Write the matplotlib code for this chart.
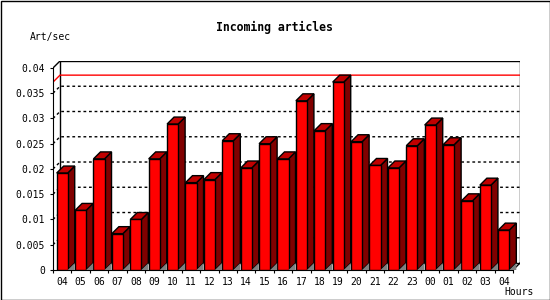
import matplotlib
matplotlib.use('Agg')
import matplotlib.pyplot as plt
from matplotlib.patches import Rectangle, Polygon

hours = ['04', '05', '06', '07', '08', '09', '10', '11', '12', '13',
         '14', '15', '16', '17', '18', '19', '20', '21', '22', '23',
         '00', '01', '02', '03', '04']
art_sec = [0.0192, 0.0118, 0.0220, 0.0072, 0.0100, 0.0220, 0.0289, 0.0173,
           0.0179, 0.0256, 0.0202, 0.0250, 0.0220, 0.0335, 0.0276, 0.0372,
           0.0254, 0.0207, 0.0202, 0.0246, 0.0287, 0.0248, 0.0137, 0.0168,
           0.0079]
yticks = [0, 0.005, 0.01, 0.015, 0.02, 0.025, 0.03, 0.035, 0.04]
ylabels = ['0', '0.005', '0.01', '0.015', '0.02', '0.025', '0.03', '0.035', '0.04']

W, H = 550, 300
n = len(art_sec)
ymax = 0.04
px_x = 460 / n          # pixels per slot
px_y = 203 / ymax       # pixels per unit
dx = 7 / px_x           # depth in data units
dy = 7 / px_y
bw = 0.6

plt.rcParams['font.family'] = 'DejaVu Sans Mono'

fig = plt.figure(figsize=(W / 100, H / 100), dpi=100)
ax = fig.add_axes([53 / W, 30 / H, 467 / W, 209 / H])
ax.set_xlim(0, n + dx)
ax.set_ylim(0, ymax + dy)
ax.patch.set_alpha(0)

for s in ['top', 'right']:
    ax.spines[s].set_visible(False)
ax.spines['left'].set_bounds(0, ymax)
ax.spines['bottom'].set_bounds(0, n)

ax.set_yticks(yticks)
ax.set_yticklabels(ylabels)
ax.set_xticks(range(n + 1))
ax.set_xticklabels([])
ax.set_xticks([i + 0.5 for i in range(n)], minor=True)
ax.set_xticklabels(hours, minor=True)
ax.tick_params(axis='y', direction='out', length=2.2, pad=3.5, labelsize=7)
ax.tick_params(axis='x', which='major', direction='out', length=2.2)
ax.tick_params(axis='x', which='minor', length=0, pad=5, labelsize=7)

# back wall, side wall, floor
ax.add_patch(Rectangle((dx, dy), n, ymax, fill=False, ec='black', lw=1, zorder=1))
ax.plot([0, dx], [ymax, ymax + dy], color='black', lw=1, zorder=1)
ax.plot([n, n + dx], [0, dy], color='black', lw=1, zorder=1)

for v in yticks[1:-1]:
    ax.plot([0, dx, n + dx], [v, v + dy, v + dy], color='black', lw=1,
            ls=(0, (2, 2)), zorder=1)

m = max(art_sec)
ax.plot([0, dx, n + dx], [m, m + dy, m + dy], color='red', lw=1, zorder=1)

for i, v in enumerate(art_sec):
    x0 = i + 0.5 - bw / 2
    x1 = x0 + bw
    ax.add_patch(Polygon([(x1, 0), (x1 + dx, dy), (x1 + dx, v + dy), (x1, v)],
                         closed=True, fc='#800000', ec='black', lw=1, zorder=3))
    ax.add_patch(Polygon([(x0, v), (x0 + dx, v + dy), (x1 + dx, v + dy), (x1, v)],
                         closed=True, fc='#c00000', ec='black', lw=1, zorder=3))
    ax.add_patch(Rectangle((x0, 0), bw, v, fc='#ff0000', ec='black', lw=1, zorder=3))
    ax.add_patch(Polygon([(x1, 0), (x1 + dx, dy), (x1 + dx, 0)],
                         closed=True, fc='#808080', ec='none', zorder=4))

fig.text(274 / W, 1 - 27 / H, 'Incoming articles', ha='center', va='center',
         fontsize=8.3, fontweight='bold')
fig.text(30 / W, 1 - 37 / H, 'Art/sec', ha='left', va='center', fontsize=7)
fig.text(504 / W, 1 - 292 / H, 'Hours', ha='left', va='center', fontsize=7)

fig.patches.append(Rectangle((0.5 / W, 0.5 / H), 1 - 1 / W, 1 - 1 / H,
                             transform=fig.transFigure, fill=False,
                             ec='black', lw=1))

fig.savefig('out.png', dpi=100)
